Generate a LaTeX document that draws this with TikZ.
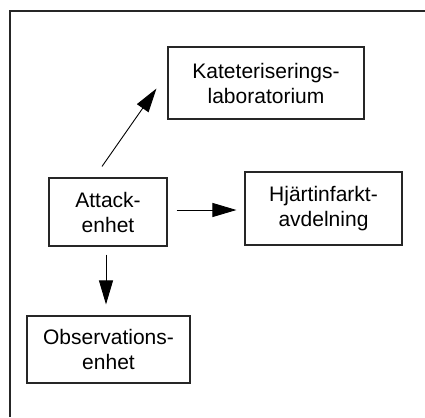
\documentclass[tikz,border=0pt]{standalone}
\usepackage{fontspec}
\setmainfont{Liberation Sans}
\usetikzlibrary{arrows.meta}
\begin{document}
\begin{tikzpicture}[x=1pt,y=-1pt,
  box/.style={draw=black!85,line width=1.1pt,align=center,inner sep=0pt,
    font=\fontsize{21}{25}\selectfont},
  arr/.style={line width=0.9pt,-{Triangle[length=24pt,width=14pt]}}]
\useasboundingbox (0,0) rectangle (425,417);
\draw[black!85,line width=1.1pt] (10,417) -- (10,11) -- (425,11);
\node[box,minimum width=196pt,minimum height=72pt] (kat) at (266,83) {Kateteriserings-\\laboratorium};
\node[box,minimum width=118pt,minimum height=68pt] (att) at (108,212) {Attack-\\enhet};
\node[box,minimum width=157pt,minimum height=73pt] (hj) at (323.5,208.5) {Hjärtinfarkt-\\avdelning};
\node[box,minimum width=163pt,minimum height=67pt] (obs) at (108.5,349.5) {Observations-\\enhet};
\draw[arr] ([xshift=-6pt,yshift=11pt]att.north) -- ([xshift=-11pt,yshift=31pt]kat.south west);
\draw[arr] ([xshift=9pt,yshift=2pt]att.east) coordinate (s1) -- ([xshift=-8pt]s1 -| hj.west);
\draw[arr] ([xshift=-2pt,yshift=-8pt]att.south) coordinate (s2) -- ([yshift=11pt]s2 |- obs.north);
\end{tikzpicture}
\end{document}
